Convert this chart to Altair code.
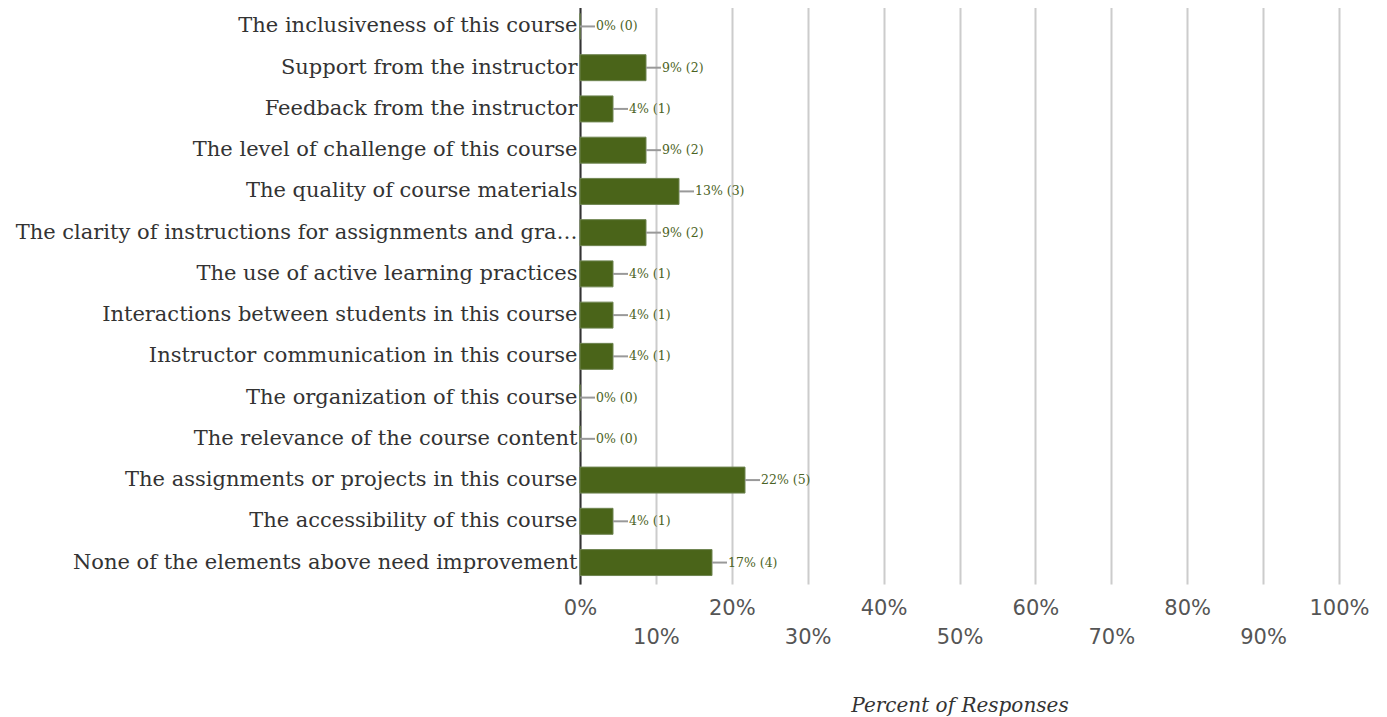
import altair as alt
import pandas as pd

categories = [
    "The inclusiveness of this course",
    "Support from the instructor",
    "Feedback from the instructor",
    "The level of challenge of this course",
    "The quality of course materials",
    "The clarity of instructions for assignments and grading",
    "The use of active learning practices",
    "Interactions between students in this course",
    "Instructor communication in this course",
    "The organization of this course",
    "The relevance of the course content",
    "The assignments or projects in this course",
    "The accessibility of this course",
    "None of the elements above need improvement",
]
counts = [0, 2, 1, 2, 3, 2, 1, 1, 1, 0, 0, 5, 1, 4]
total_responses = 23
pct_labels = ["0%", "9%", "4%", "9%", "13%", "9%", "4%", "4%", "4%", "0%", "0%", "22%", "4%", "17%"]

df = pd.DataFrame({
    "category": categories,
    "count": counts,
    "pct": [c / total_responses * 100 for c in counts],
    "label": [f"{p} ({c})" for p, c in zip(pct_labels, counts)],
})

BAR = "#4a6419"
TEXT = "#4b6324"

y_enc = alt.Y(
    "category:N",
    sort=categories,
    title=None,
    scale=alt.Scale(paddingInner=0.37, paddingOuter=0.205),
    axis=alt.Axis(
        labelFont="DejaVu Serif",
        labelFontSize=21,
        labelColor="#333333",
        labelLimit=565,
        labelPadding=3,
        ticks=False,
        domain=True,
        domainColor="#333333",
        domainWidth=2,
        grid=False,
    ),
)

x_enc = alt.X(
    "pct:Q",
    title="Percent of Responses",
    scale=alt.Scale(domain=[0, 100], nice=False),
    axis=alt.Axis(
        values=list(range(0, 101, 10)),
        labelExpr="(datum.value % 20 == 10) ? ['', datum.value + '%'] : datum.value + '%'",
        labelFont="DejaVu Sans",
        labelFontSize=21,
        labelColor="#555555",
        labelLineHeight=29,
        labelPadding=13,
        labelBaseline="top",
        labelOverlap=False,
        labelFlush=False,
        ticks=False,
        domain=False,
        grid=True,
        gridColor="#cccccc",
        gridWidth=2,
        titleFont="DejaVu Serif",
        titleFontStyle="italic",
        titleFontWeight="normal",
        titleFontSize=20,
        titleColor="#333333",
        titlePadding=48,
    ),
)

bars = alt.Chart(df).mark_bar(color=BAR, stroke="#6e8450", strokeWidth=1).encode(
    x=x_enc, y=y_enc
)

leaders = alt.Chart(df).mark_rule(color="#999999", strokeWidth=2, x2Offset=15).encode(
    x="pct:Q", x2="pct:Q", y=alt.Y("category:N", sort=categories)
)

texts = alt.Chart(df).mark_text(
    align="left", baseline="middle", dx=16, font="DejaVu Serif", fontSize=12.5, color=TEXT
).encode(
    x="pct:Q", y=alt.Y("category:N", sort=categories), text="label:N"
)

chart = (
    alt.layer(bars, leaders, texts)
    .properties(width=759, height=579, padding={"top": -3, "left": 7, "right": 5, "bottom": 5})
    .configure_view(stroke=None)
)

chart.save("out.html", embed_options={"renderer": "svg", "actions": False})
